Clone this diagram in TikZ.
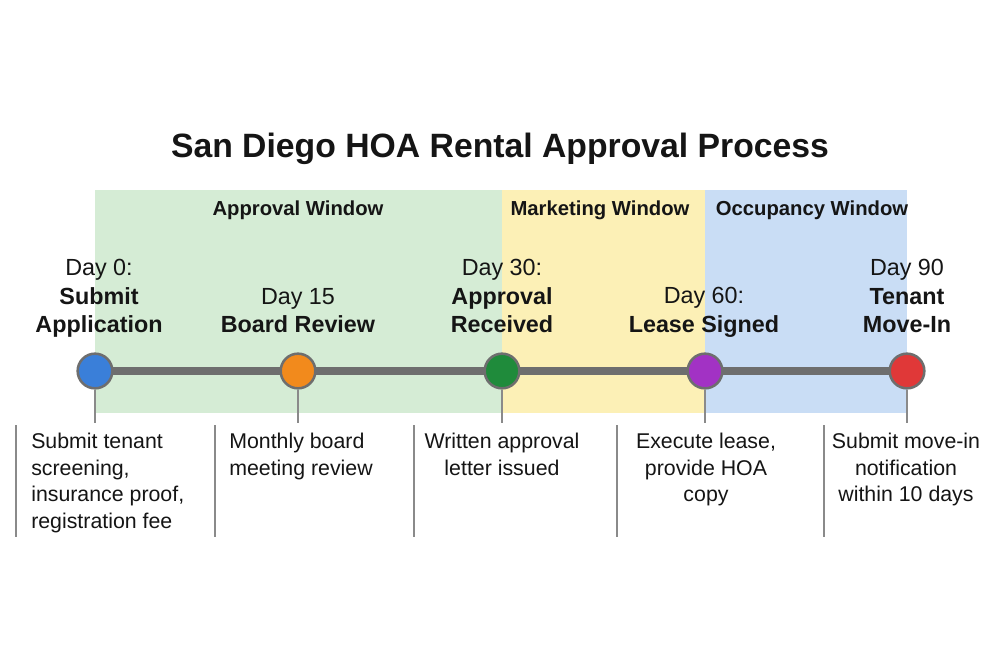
\documentclass[tikz,border=0pt]{standalone}
\usepackage{fontspec}
\setmainfont{Liberation Sans}
\pgfdeclarelayer{bands}
\pgfdeclarelayer{bg}
\pgfsetlayers{bands,bg,main}
\definecolor{bandgreen}{HTML}{D5ECD5}
\definecolor{bandyellow}{HTML}{FCF0B6}
\definecolor{bandblue}{HTML}{C9DDF5}
\definecolor{linegray}{HTML}{6E6E6E}
\definecolor{sepgray}{HTML}{8A8A8A}
\definecolor{txt}{HTML}{151515}
\definecolor{mblue}{HTML}{3A7FD9}
\definecolor{morange}{HTML}{F28A1C}
\definecolor{mgreen}{HTML}{1F8B3B}
\definecolor{mpurple}{HTML}{A232C4}
\definecolor{mred}{HTML}{E03838}
\begin{document}
\begin{tikzpicture}[x=0.75pt,y=-0.75pt,
  milestone/.style={circle,draw=linegray,line width=1.9pt,minimum size=26pt,inner sep=0pt},
  toplabel/.style={anchor=north,align=center,inner sep=0pt,text=txt,font=\fontsize{17.5pt}{21.4pt}\selectfont},
  desc/.style={anchor=north,align=center,inner sep=0pt,text=txt,font=\fontsize{16pt}{19.9pt}\selectfont},
  descl/.style={desc,anchor=north west,align=left},
  bandlabel/.style={inner sep=0pt,text=txt,font=\fontsize{15.2pt}{18pt}\selectfont\bfseries},
  stem/.style={draw=sepgray,line width=1.1pt},
  sep/.style={draw=sepgray,line width=1.1pt},
  timeline/.style={draw=linegray,line width=6pt}]
\useasboundingbox (0,0) rectangle (1000,667);
\begin{pgfonlayer}{bands}
\fill[white] (0,0) rectangle (1000,667);
% bands
\fill[bandgreen] (95,190) rectangle (502,413);
\fill[bandyellow] (502,190) rectangle (705,413);
\fill[bandblue] (705,190) rectangle (907,413);
\end{pgfonlayer}
% title
\node[inner sep=0pt,text=txt,font=\fontsize{25.3pt}{30pt}\selectfont\bfseries] (title) at (500,149) {San Diego HOA Rental Approval Process};
% band labels
\node[bandlabel] (bl1) at (298,210) {Approval Window};
\node[bandlabel] (bl2) at (600,210) {Marketing Window};
\node[bandlabel] (bl3) at (812,210) {Occupancy Window};
% milestones
\node[milestone,fill=mblue] (c0) at (95,371) {};
\node[milestone,fill=morange] (c1) at (298,371) {};
\node[milestone,fill=mgreen] (c2) at (502,371) {};
\node[milestone,fill=mpurple] (c3) at (705,371) {};
\node[milestone,fill=mred] (c4) at (907,371) {};
\begin{pgfonlayer}{bg}
\draw[timeline] (c0.center) -- (c1.center) -- (c2.center) -- (c3.center) -- (c4.center);
\end{pgfonlayer}
% stems
\coordinate (s0) at (95,423);
\coordinate (s1) at (298,423);
\coordinate (s2) at (502,423);
\coordinate (s3) at (705,423);
\coordinate (s4) at (907,423);
\draw[stem] (c0) -- (s0);
\draw[stem] (c1) -- (s1);
\draw[stem] (c2) -- (s2);
\draw[stem] (c3) -- (s3);
\draw[stem] (c4) -- (s4);
% top labels
\node[toplabel] (t0) at (99,259) {Day 0:\\\textbf{Submit}\\\textbf{Application}};
\node[toplabel] (t1) at (298,288) {Day 15\\\textbf{Board Review}};
\node[toplabel] (t2) at (502,259) {Day 30:\\\textbf{Approval}\\\textbf{Received}};
\node[toplabel] (t3) at (704,287) {Day 60:\\\textbf{Lease Signed}};
\node[toplabel] (t4) at (907,259) {Day 90\\\textbf{Tenant}\\\textbf{Move-In}};
% separators
\coordinate (p0a) at (16,425); \coordinate (p0b) at (16,537);
\coordinate (p1a) at (215,425); \coordinate (p1b) at (215,537);
\coordinate (p2a) at (414,425); \coordinate (p2b) at (414,537);
\coordinate (p3a) at (617,425); \coordinate (p3b) at (617,537);
\coordinate (p4a) at (824,425); \coordinate (p4b) at (824,537);
\draw[sep] (p0a) -- (p0b);
\draw[sep] (p1a) -- (p1b);
\draw[sep] (p2a) -- (p2b);
\draw[sep] (p3a) -- (p3b);
\draw[sep] (p4a) -- (p4b);
% descriptions
\node[descl] (d0) at (31,433) {Submit tenant\\screening,\\insurance proof,\\registration fee};
\node[descl] (d1) at (229,433) {Monthly board\\meeting review};
\node[desc] (d2) at (502,433) {Written approval\\letter issued};
\node[desc] (d3) at (706,433) {Execute lease,\\provide HOA\\copy};
\node[desc] (d4) at (906,433) {Submit move-in\\notification\\within 10 days};
\end{tikzpicture}
\end{document}
